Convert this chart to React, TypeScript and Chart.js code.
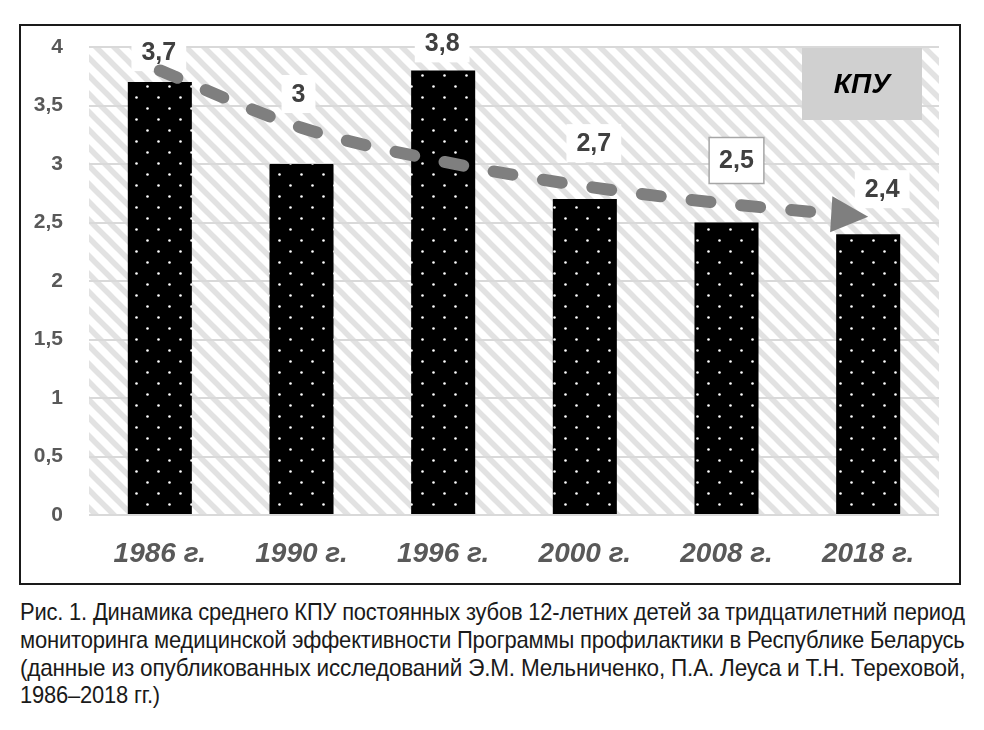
import React, { useEffect, useRef } from "react";
import { Chart, registerables } from "chart.js";

Chart.register(...registerables);

// ---------- data ----------
const categories = ["1986 г.", "1990 г.", "1996 г.", "2000 г.", "2008 г.", "2018 г."];
const kpuValues = [3.7, 3.0, 3.8, 2.7, 2.5, 2.4];
const trendValues = [3.8, 3.31, 3.02, 2.81, 2.66, 2.55];
const yMin = 0;
const yMax = 4;
const yStep = 0.5;
const legendLabel = "КПУ";
const captionLines = [
  "Рис. 1. Динамика среднего КПУ постоянных зубов 12-летних детей за тридцатилетний период",
  "мониторинга медицинской эффективности Программы профилактики в Республике Беларусь",
  "(данные из опубликованных исследований Э.М. Мельниченко, П.А. Леуса и Т.Н. Тереховой,",
  "1986–2018 гг.)",
];

// ---------- label placement (layout, not data) ----------
const labelOffsets: [number, number][] = [
  [-1, -30],
  [-3, -70],
  [-1, -27],
  [9, -56],
  [10, -62],
  [14, -45],
];
const labelBordered = [false, false, false, false, true, false];

const FONT = "'Liberation Sans', Arial, sans-serif";
const fmt = (v: number) => String(v).replace(".", ",");

function makeHatch(): CanvasPattern | string {
  const s = 18;
  const c = document.createElement("canvas");
  c.width = s;
  c.height = s;
  const g = c.getContext("2d");
  if (!g) return "#fff";
  g.fillStyle = "#ffffff";
  g.fillRect(0, 0, s, s);
  g.strokeStyle = "#e2e2e2";
  g.lineWidth = 5.5;
  for (let k = -1; k <= 1; k++) {
    g.beginPath();
    g.moveTo(k * s - 2, -2);
    g.lineTo(k * s + s + 2, s + 2);
    g.stroke();
  }
  const p = g.createPattern(c, "repeat");
  return p || "#fff";
}

function makeDots(): CanvasPattern | string {
  const s = 22;
  const c = document.createElement("canvas");
  c.width = s;
  c.height = s;
  const g = c.getContext("2d");
  if (!g) return "#000";
  g.fillStyle = "#000000";
  g.fillRect(0, 0, s, s);
  g.fillStyle = "#ffffff";
  for (const [x, y] of [
    [5.5, 5.5],
    [16.5, 16.5],
  ]) {
    g.beginPath();
    g.arc(x, y, 1.3, 0, Math.PI * 2);
    g.fill();
  }
  const p = g.createPattern(c, "repeat");
  return p || "#000";
}

export default function App() {
  const ref = useRef<HTMLCanvasElement | null>(null);
  const capRef = useRef<HTMLDivElement | null>(null);

  useEffect(() => {
    // fit caption lines to the justified width (condensed look)
    const box = capRef.current;
    if (box) {
      const spans = Array.from(box.querySelectorAll("span")) as HTMLSpanElement[];
      const target = 945;
      let firstScale = 1;
      spans.forEach((sp, i) => {
        const w = sp.offsetWidth;
        if (i < spans.length - 1) {
          const sc = target / w;
          if (i === 0) firstScale = sc;
          sp.style.transform = `scaleX(${sc})`;
        } else {
          sp.style.transform = `scaleX(${firstScale})`;
        }
      });
    }
  }, []);

  useEffect(() => {
    if (!ref.current) return;
    const hatch = makeHatch();
    const dots = makeDots();

    const bgPlugin = {
      id: "hatchBg",
      beforeDraw(chart: any) {
        const { ctx, chartArea: a } = chart;
        ctx.save();
        ctx.fillStyle = hatch;
        ctx.fillRect(a.left, a.top, a.right - a.left, a.bottom - a.top);
        ctx.restore();
      },
    };

    const overlayPlugin = {
      id: "overlay",
      afterDatasetsDraw(chart: any) {
        const { ctx, chartArea: a, scales } = chart;
        const xs = scales.x;
        const ys = scales.y;

        // legend box
        ctx.save();
        const bw = 120;
        const bh = 72;
        const bx = a.right - 17 - bw;
        const by = a.top + 1;
        ctx.fillStyle = "#d0d0d0";
        ctx.fillRect(bx, by, bw, bh);
        ctx.fillStyle = "#000";
        ctx.font = `italic bold 28px ${FONT}`;
        ctx.textAlign = "center";
        ctx.textBaseline = "middle";
        ctx.fillText(legendLabel, bx + bw / 2, by + bh / 2 + 1);
        ctx.restore();

        // data labels
        ctx.save();
        ctx.font = `bold 25px ${FONT}`;
        ctx.textAlign = "center";
        ctx.textBaseline = "middle";
        kpuValues.forEach((v, i) => {
          const txt = fmt(v);
          const cx = xs.getPixelForValue(i) + labelOffsets[i][0];
          const cy = ys.getPixelForValue(v) + labelOffsets[i][1];
          const w = ctx.measureText(txt).width;
          const padX = 10;
          const padY = labelBordered[i] ? 14 : 10;
          const hh = 18;
          ctx.fillStyle = "#ffffff";
          ctx.fillRect(cx - w / 2 - padX, cy - hh / 2 - padY, w + padX * 2, hh + padY * 2);
          if (labelBordered[i]) {
            ctx.strokeStyle = "#a6a6a6";
            ctx.lineWidth = 1.5;
            ctx.strokeRect(cx - w / 2 - padX, cy - hh / 2 - padY, w + padX * 2, hh + padY * 2);
          }
          ctx.fillStyle = "#404040";
          ctx.fillText(txt, cx, cy + 1);
        });
        ctx.restore();

        // trend arrow
        const pts = trendValues.map((v, i) => ({ x: xs.getPixelForValue(i), y: ys.getPixelForValue(v) }));
        const tip = pts[pts.length - 1];
        const prev = pts[pts.length - 2];
        let dx = tip.x - prev.x;
        let dy = (tip.y - prev.y) * 0.7;
        const len = Math.hypot(dx, dy);
        dx /= len;
        dy /= len;
        const aLen = 37;
        const aHalf = 18;
        const baseX = tip.x - dx * aLen;
        const baseY = tip.y - dy * aLen;

        ctx.save();
        ctx.beginPath();
        ctx.rect(a.left, a.top - 40, baseX - 3 - a.left, a.bottom - a.top + 40);
        ctx.clip();
        ctx.strokeStyle = "#7f7f7f";
        ctx.lineWidth = 12;
        ctx.lineCap = "round";
        ctx.setLineDash([19, 31]);
        ctx.beginPath();
        ctx.moveTo(pts[0].x, pts[0].y);
        for (let i = 0; i < pts.length - 1; i++) {
          const p0 = pts[Math.max(0, i - 1)];
          const p1 = pts[i];
          const p2 = pts[i + 1];
          const p3 = pts[Math.min(pts.length - 1, i + 2)];
          const t = 1 / 6;
          ctx.bezierCurveTo(
            p1.x + (p2.x - p0.x) * t,
            p1.y + (p2.y - p0.y) * t,
            p2.x - (p3.x - p1.x) * t,
            p2.y - (p3.y - p1.y) * t,
            p2.x,
            p2.y
          );
        }
        ctx.stroke();
        ctx.restore();

        ctx.save();
        ctx.fillStyle = "#7f7f7f";
        ctx.beginPath();
        ctx.moveTo(tip.x, tip.y);
        ctx.lineTo(baseX - dy * aHalf, baseY + dx * aHalf);
        ctx.lineTo(baseX + dy * aHalf, baseY - dx * aHalf);
        ctx.closePath();
        ctx.fill();
        ctx.restore();
      },
    };

    const chart = new Chart(ref.current, {
      type: "bar",
      data: {
        labels: categories,
        datasets: [
          {
            label: legendLabel,
            data: kpuValues,
            backgroundColor: dots as any,
            borderWidth: 0,
            categoryPercentage: 1,
            barPercentage: 0.452,
          },
        ],
      },
      options: {
        responsive: false,
        animation: false,
        layout: { padding: { top: 21, right: 20, left: 0, bottom: 0 } },
        plugins: {
          legend: { display: false },
          tooltip: { enabled: false },
        },
        scales: {
          x: {
            grid: { display: false, drawTicks: false },
            border: { display: false },
            ticks: {
              color: "#595959",
              padding: 22,
              font: { family: FONT, size: 28, weight: "bold", style: "italic" },
            },
            afterFit: (s: any) => {
              s.height = 68;
            },
          },
          y: {
            min: yMin,
            max: yMax,
            grid: { color: "#d9d9d9", lineWidth: 2, drawTicks: false },
            border: { display: false },
            ticks: {
              stepSize: yStep,
              color: "#595959",
              padding: 26,
              font: { family: FONT, size: 21, weight: "bold" },
              callback: (v: any) => fmt(Number(v)),
            },
            afterFit: (s: any) => {
              s.width = 68;
              s.paddingTop = 12;
              s.paddingBottom = 12;
            },
          },
        },
      },
      plugins: [bgPlugin, overlayPlugin],
    });
    return () => chart.destroy();
  }, []);

  return (
    <div style={{ position: "absolute", left: 0, top: 0, width: 984, height: 730, background: "#fff" }}>
      <div
        style={{
          position: "absolute",
          left: 19,
          top: 24,
          width: 938,
          height: 557,
          border: "2px solid #1a1a1a",
        }}
      >
        <canvas ref={ref} width={938} height={557} style={{ display: "block", width: 938, height: 557 }} />
      </div>
      <div
        ref={capRef}
        style={{
          position: "absolute",
          left: 20,
          top: 598,
          fontFamily: "'Liberation Sans', Arial, sans-serif",
          fontSize: 24,
          lineHeight: "27.8px",
          color: "#1a1a1a",
          letterSpacing: "-0.2px",
        }}
      >
        {captionLines.map((line, i) => (
          <div key={i} style={{ whiteSpace: "nowrap", height: 27.8 }}>
            <span style={{ display: "inline-block", transformOrigin: "0 0" }}>{line}</span>
          </div>
        ))}
      </div>
    </div>
  );
}
